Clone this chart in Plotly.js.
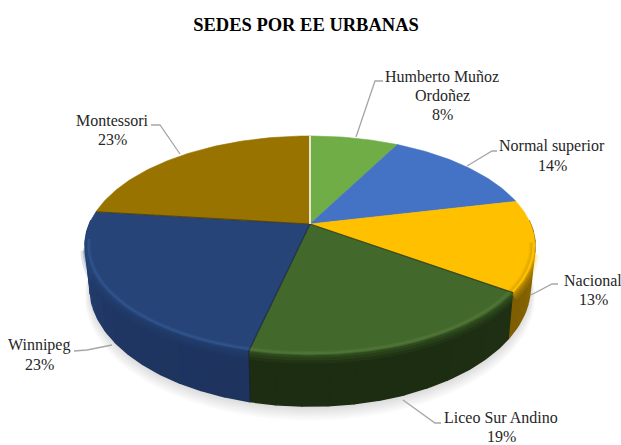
<!DOCTYPE html>
<html>
<head>
<meta charset="utf-8">
<script src="https://cdn.plot.ly/plotly-3.0.1.min.js"></script>
<style>html,body{margin:0;padding:0;background:#fff}#chart{width:621px;height:445px}</style>
</head>
<body>
<div id="chart"></div>
<script>
// Data
const categories = ["Humberto Muñoz|Ordoñez", "Normal superior", "Nacional", "Liceo Sur Andino", "Winnipeg", "Montessori"];
const shares = [7.7, 13.7, 13.4, 18.8, 23.3, 23.1];
const chartTitle = "SEDES POR EE URBANAS";

// Styles
const faceColors = ["#70AD47", "#4472C4", "#FFC000", "#43682B", "#264478", "#997300"];
const sideColors = [[40,64,26], [38,66,115], [118,88,0], [29,45,18], [30,52,95], [90,68,0]];
const rimColors  = ["#8cc46a", "#6a92dc", "#d09c00", "#587f40", "#3a609c", "#b58a10"];

// Perspective disc geometry
const cx = 310, persp = 0.1965;
const topDisc = {rx: 220.6, ry: 105.3, cy: 224};
const botDisc = {rx: 216, ry: 115, cy: 263};
function proj(deg, d, k) {
  k = k === undefined ? 1 : k;
  const t = deg * Math.PI / 180, w = 1 / (1 + persp * Math.cos(t));
  return [cx + k * d.rx * Math.sin(t) * w, d.cy - k * d.ry * Math.cos(t) * w];
}
const apex = [cx, topDisc.cy];
function arc(a, b, d, k, step) {
  step = step || 1;
  const pts = [], n = Math.max(1, Math.ceil(Math.abs(b - a) / step));
  for (let i = 0; i <= n; i++) pts.push(proj(a + (b - a) * i / n, d, k));
  return pts;
}
const total = shares.reduce((s, v) => s + v, 0);
const bounds = [0];
shares.forEach(v => bounds.push(bounds[bounds.length - 1] + v / total * 360));

const traces = [];
function poly(pts, fill, lineColor, lw) {
  traces.push({type: "scatter", mode: "lines", x: pts.map(p => p[0]), y: pts.map(p => p[1]),
    fill: "toself", fillcolor: fill, line: {color: lineColor || fill, width: lw === undefined ? 0.6 : lw},
    hoverinfo: "skip", showlegend: false});
}
function stroke(pts, color, lw, op) {
  traces.push({type: "scatter", mode: "lines", x: pts.map(p => p[0]), y: pts.map(p => p[1]),
    line: {color: color, width: lw, simplify: false, shape: "linear"}, opacity: op === undefined ? 1 : op,
    hoverinfo: "skip", showlegend: false});
}

// Soft shadow beneath the disc
for (let i = 7; i >= 1; i--) {
  const d = {rx: botDisc.rx + i * 0.7, ry: botDisc.ry + i * 0.6, cy: botDisc.cy + i * 1.3};
  poly(arc(75, 285, d, 1, 3), "rgba(0,0,0,0.02)", "rgba(0,0,0,0)", 0);
}

// Side wall: shaded bands per slice
const frontA = 88, frontB = 272;
shares.forEach((v, i) => {
  const a = Math.max(bounds[i], frontA), b = Math.min(bounds[i + 1], frontB);
  if (b <= a) return;
  const n = Math.ceil((b - a) / 6);
  for (let j = 0; j < n; j++) {
    const a0 = a + (b - a) * j / n, a1 = a + (b - a) * (j + 1) / n, mid = (a0 + a1) / 2;
    const f = 1 + 0.3 * Math.pow(Math.abs(mid - 180) / 92, 3);
    const c = sideColors[i].map(x => Math.min(255, Math.round(x * f)));
    const col = "rgb(" + c.join(",") + ")";
    poly(arc(a0, a1, topDisc).concat(arc(a1, a0, botDisc)), col, col, 1.6);
  }
});
// Ambient glow just under the top edge
shares.forEach((v, i) => {
  const a = Math.max(bounds[i], 104), b = Math.min(bounds[i + 1], 258);
  if (b <= a) return;
  const rim = arc(a, b, {rx: topDisc.rx, ry: topDisc.ry, cy: topDisc.cy + 4});
  stroke(rim, faceColors[i], 9, 0.14);
  stroke(rim.map(p => [p[0], p[1] - 1]), faceColors[i], 5, 0.2);
  stroke(rim.map(p => [p[0], p[1] - 3]), faceColors[i], 3, 0.3);
});

// Top face
shares.forEach((v, i) => {
  poly([apex].concat(arc(bounds[i], bounds[i + 1], topDisc)).concat([apex]), faceColors[i]);
});
// Bevel highlight near the front edge
shares.forEach((v, i) => {
  const a = Math.max(bounds[i], 100), b = Math.min(bounds[i + 1], 262);
  if (b <= a) return;
  stroke(arc(a, b, topDisc, 0.982), rimColors[i], 3.5, 0.28);
  stroke(arc(a, b, topDisc, 0.985), rimColors[i], 1.6, 0.4);
});
// Seams
[3, 4, 5].forEach(k => stroke([apex, proj(bounds[k], topDisc)], "rgba(20,20,10,0.45)", 1.2));
stroke([proj(bounds[4], topDisc), proj(bounds[4], botDisc)], "rgba(15,25,45,0.5)", 1);
stroke([apex, proj(0, topDisc)], "#ffffff", 1.6);

// Leader lines, in page pixels
const leaderGrey = "#a6a6a6";
const leaders = [
  [[356, 137], [375, 81], [383, 81]],
  [[467, 166], [492, 151], [497, 151]],
  [[531, 295], [552, 284], [558, 284]],
  [[403, 400], [435, 423], [441, 423]],
  [[112, 345], [87, 350], [74, 351]],
  [[180, 154], [160, 125], [151, 125]]
];
leaders.forEach(l => stroke(l, leaderGrey, 1.3));

// Labels: each line is placed on its own so the leading matches
const labelCenter = [[442, 76], [552, 146], [593, 280], [501, 417], [39, 345], [112, 120]];
const leading = 19;
const annotations = [];
categories.forEach((c, i) => {
  const lines = c.split("|").concat(Math.round(shares[i] / total * 100) + "%");
  lines.forEach((t, j) => annotations.push({
    xref: "x", yref: "y", x: labelCenter[i][0], y: labelCenter[i][1] + j * leading, showarrow: false,
    text: t, align: "center", xanchor: "center", yanchor: "middle", borderpad: 0,
    font: {family: "'Liberation Serif', serif", size: 16, color: "#262626"}
  }));
});

Plotly.newPlot("chart", traces, {
  width: 621, height: 445,
  margin: {l: 0, r: 0, t: 0, b: 0},
  paper_bgcolor: "#fff", plot_bgcolor: "#fff",
  showlegend: false,
  title: {text: "<b>" + chartTitle + "</b>", x: 306 / 621, xanchor: "center", y: 1 - 25 / 445, yanchor: "middle",
    font: {family: "'Liberation Serif', serif", size: 18.5, color: "#000"}},
  xaxis: {range: [0, 621], visible: false, fixedrange: true},
  yaxis: {range: [445, 0], visible: false, fixedrange: true},
  annotations: annotations
}, {displayModeBar: false, staticPlot: true});
</script>
</body>
</html>
